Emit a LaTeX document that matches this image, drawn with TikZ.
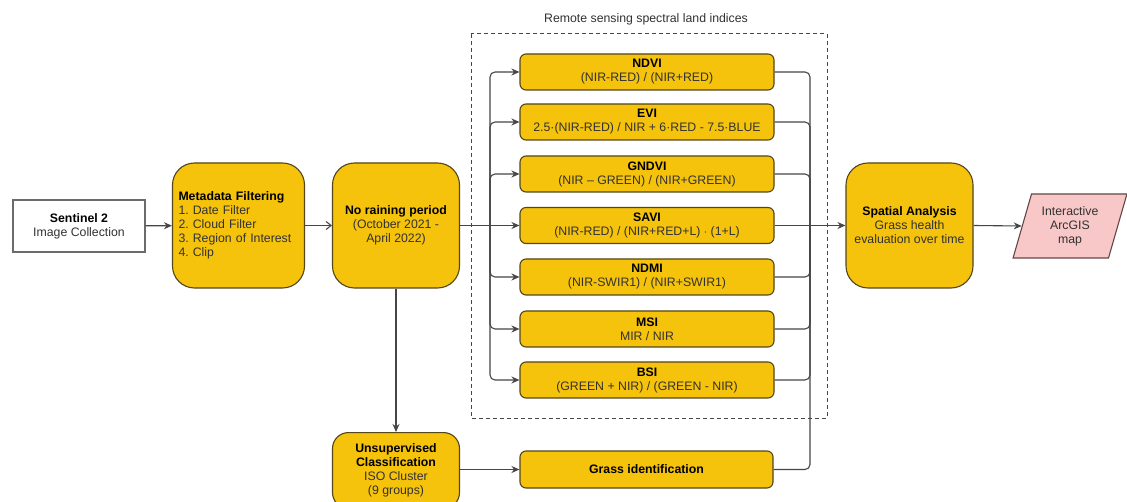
\documentclass[tikz,border=0pt]{standalone}
\usepackage{fontspec}
\setmainfont{Liberation Sans}
\usetikzlibrary{arrows.meta,shapes.geometric}
\frenchspacing
\definecolor{ylw}{RGB}{245,194,12}
\definecolor{ybord}{RGB}{85,70,25}
\definecolor{pnk}{RGB}{248,200,200}
\definecolor{pbord}{RGB}{100,70,70}
\definecolor{txt}{RGB}{50,50,50}
\definecolor{ln}{RGB}{70,70,70}
\tikzset{
  base/.style={font=\fontsize{12.3}{14}\selectfont, text=txt, align=center, line width=1.1pt, inner sep=3pt},
  bigbox/.style={base, draw=ybord, fill=ylw, rounded corners=22pt, minimum width=127pt, minimum height=125pt},
  idx/.style={base, draw=ybord, fill=ylw, rounded corners=6pt, minimum width=254pt, minimum height=36pt},
  plain/.style={base, draw=ln!80, fill=white, minimum width=132pt, minimum height=52pt},
  arr/.style={draw=ln, line width=1.1pt, -{Stealth[length=8pt,width=7pt]}},
  oarr/.style={draw=ln, line width=1.1pt, -{Straight Barb[length=5pt,width=8pt]}},
  conn/.style={draw=ln, line width=1.1pt, rounded corners=5pt},
}
\begin{document}
\begin{tikzpicture}[x=1pt,y=-1pt]
\clip (0,0) rectangle (1127,502);
\fill[white] (0,0) rectangle (1127,502);

% dashed group
\draw[ln, line width=1pt, dash pattern=on 4pt off 3pt] (471,34) rectangle (827,418);
\node[base] (title) at (646,19) {Remote sensing spectral land indices};

\node[plain] (sen) at (79,226) {\textbf{\color{black}Sentinel 2}\\Image Collection};
\node[bigbox, minimum width=132pt, align=left, text width=120pt, inner sep=6pt] (meta) at (238.5,225.5)
  {\textbf{\color{black}Metadata Filtering}\\1. Date Filter\\2. Cloud Filter\\3. Region of Interest\\4. Clip};
\node[bigbox] (rain) at (396,225.5) {\textbf{\color{black}No raining period}\\(October 2021 -\\April 2022)};
\node[bigbox] (spa) at (909.5,225.5) {\textbf{\color{black}Spatial Analysis}\\Grass health\\evaluation over time};
\node[base, draw=pbord, fill=pnk, shape=trapezium, trapezium left angle=71, trapezium right angle=109,
  trapezium stretches=true, minimum width=114pt, minimum height=64pt, inner sep=0pt] (map) at (1070,226)
  {Interactive\\ArcGIS\\map};
\node[bigbox, anchor=north, minimum height=76pt, rounded corners=16pt] (uns) at (396,432)
  {\textbf{\color{black}Unsupervised}\\\textbf{\color{black}Classification}\\ISO Cluster\\(9 groups)};
\node[idx, minimum width=253pt, minimum height=37pt] (grass) at (646.5,469.5) {\textbf{\color{black}Grass identification}};

\node[idx] (ndvi) at (647,72) {\textbf{\color{black}NDVI}\\(NIR-RED) / (NIR+RED)};
\node[idx] (evi) at (647,122) {\textbf{\color{black}EVI}\\2.5\textperiodcentered(NIR-RED) / NIR + 6\textperiodcentered RED - 7.5\textperiodcentered BLUE};
\node[idx] (gndvi) at (647,174) {\textbf{\color{black}GNDVI}\\(NIR -- GREEN) / (NIR+GREEN)};
\node[idx] (savi) at (647,225.5) {\textbf{\color{black}SAVI}\\(NIR-RED) / (NIR+RED+L) $\cdot$ (1+L)};
\node[idx] (ndmi) at (647,277) {\textbf{\color{black}NDMI}\\(NIR-SWIR1) / (NIR+SWIR1)};
\node[idx] (msi) at (647,329) {\textbf{\color{black}MSI}\\MIR / NIR};
\node[idx] (bsi) at (647,380) {\textbf{\color{black}BSI}\\(GREEN + NIR) / (GREEN - NIR)};

\coordinate (lbus) at (490,225.5);
\coordinate (rbus) at (810,225.5);

\draw[arr] (sen) -- (meta);
\draw[oarr] (meta) -- (rain);
\draw[arr] (rain.east) -- (savi.west);
\foreach \b in {ndvi,evi,gndvi,ndmi,msi,bsi}{
  \draw[conn, arr] (lbus) |- (\b.west);
  \draw[conn] (\b.east) -| (rbus);
}
\draw[conn] (savi.east) -- (rbus);
\draw[conn] (grass.east) -| (rbus);
\draw[arr] (rbus) -- (spa.west);
\draw[arr] (spa.east) -- (map.west);
\draw[arr] (rain.south) -- (uns.north);
\draw[arr] (uns.east |- grass.west) -- (grass.west);
\end{tikzpicture}
\end{document}
